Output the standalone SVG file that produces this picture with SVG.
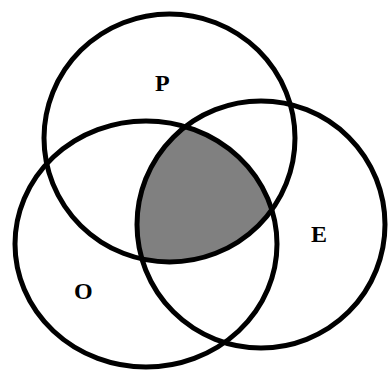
<svg xmlns="http://www.w3.org/2000/svg" width="388" height="370" viewBox="0 0 388 370">
<style>
.c{fill:none;stroke:#000;stroke-width:5}
.t{font-family:"Liberation Serif",serif;font-weight:bold;font-size:24px;fill:#000}
</style>
<defs>
<clipPath id="cpP"><ellipse cx="169.5" cy="138" rx="125.5" ry="124"/></clipPath>
<clipPath id="cpO"><ellipse cx="146" cy="244" rx="131" ry="123"/></clipPath>
</defs>
<rect width="388" height="370" fill="#fff"/>
<g id="shade" clip-path="url(#cpP)">
<g clip-path="url(#cpO)">
<ellipse cx="261" cy="224.5" rx="124" ry="123.5" fill="#808080"/>
</g>
</g>
<g id="P"><ellipse class="c" cx="169.5" cy="138" rx="125.5" ry="124"/><text class="t" x="155" y="91">P</text></g>
<g id="O"><ellipse class="c" cx="146" cy="244" rx="131" ry="123"/><text class="t" x="74" y="299">O</text></g>
<g id="E"><ellipse class="c" cx="261" cy="224.5" rx="124" ry="123.5"/><text class="t" x="311" y="242">E</text></g>
</svg>
